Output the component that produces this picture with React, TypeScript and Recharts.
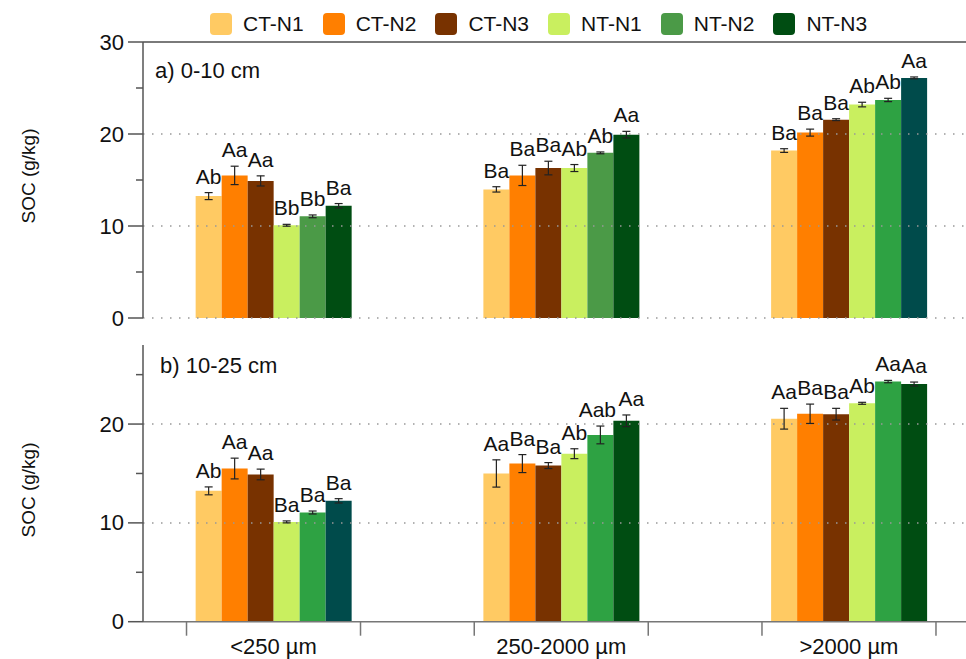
import React from "react";
import {
  BarChart,
  Bar,
  XAxis,
  YAxis,
  ReferenceLine,
  ErrorBar,
  LabelList,
  Cell,
  Legend,
} from "recharts";

const sizeClasses = ["<250 µm", "250-2000 µm", ">2000 µm"];
const treatments = ["CT-N1", "CT-N2", "CT-N3", "NT-N1", "NT-N2", "NT-N3"];

// SOC (g/kg): one row per aggregate size class, columns in treatment order
const soc0to10 = [
  [13.25, 15.5, 14.9, 10.08, 11.05, 12.2],
  [13.98, 15.5, 16.3, 16.3, 17.95, 19.93],
  [18.2, 20.15, 21.56, 23.2, 23.7, 26.1],
];
const se0to10 = [
  [0.38, 1.0, 0.55, 0.1, 0.15, 0.24],
  [0.29, 1.1, 0.74, 0.38, 0.1, 0.36],
  [0.2, 0.38, 0.1, 0.25, 0.18, 0.1],
];
const letters0to10 = [
  ["Ab", "Aa", "Aa", "Bb", "Bb", "Ba"],
  ["Ba", "Ba", "Ba", "Ab", "Ab", "Aa"],
  ["Ba", "Ba", "Ba", "Ab", "Ab", "Aa"],
];

const soc10to25 = [
  [13.24, 15.5, 14.9, 10.1, 11.05, 12.23],
  [15.0, 16.0, 15.8, 17.0, 18.9, 20.33],
  [20.54, 21.04, 21.0, 22.1, 24.3, 24.05],
];
const se10to25 = [
  [0.4, 1.05, 0.54, 0.1, 0.15, 0.22],
  [1.38, 0.91, 0.3, 0.5, 0.9, 0.59],
  [1.05, 0.98, 0.59, 0.1, 0.12, 0.2],
];
const letters10to25 = [
  ["Ab", "Aa", "Aa", "Ba", "Ba", "Ba"],
  ["Aa", "Ba", "Ba", "Ab", "Aab", "Aa"],
  ["Aa", "Ba", "Ba", "Ab", "Aa", "Aa"],
];

const topTicks = [0, 5, 10, 15, 20, 25, 30];
const bottomTicks = [0, 5, 10, 15, 20, 25];
const topGrid = [0, 10, 20];
const bottomGrid = [10, 20];

// colours
const CT1 = "#ffca63";
const CT2 = "#ff7f00";
const CT3 = "#783200";
const NT1 = "#c9ef5f";
const NT2a = "#4b9a47";
const NT2b = "#2ea243";
const NT3a = "#004d12";
const NT3b = "#004b4b";
const legendColors = [CT1, CT2, CT3, NT1, NT2a, NT3a];
const topColors = [
  [CT1, CT2, CT3, NT1, NT2a, NT3a],
  [CT1, CT2, CT3, NT1, NT2a, NT3a],
  [CT1, CT2, CT3, NT1, NT2b, NT3b],
];
const bottomColors = [
  [CT1, CT2, CT3, NT1, NT2b, NT3b],
  [CT1, CT2, CT3, NT1, NT2b, NT3a],
  [CT1, CT2, CT3, NT1, NT2b, NT3a],
];

const FONT = "'Liberation Sans', Arial, Helvetica, sans-serif";
const X_DOMAIN: [number, number] = [-0.4536, 2.4067];

function buildRows(soc: number[][], se: number[][], letters: string[][]) {
  return sizeClasses.map((size, i) => {
    const row: Record<string, number | string> = { pos: i, size };
    treatments.forEach((_, j) => {
      row[`v${j}`] = soc[i][j];
      row[`e${j}`] = se[i][j];
      row[`l${j}`] = letters[i][j];
    });
    return row;
  });
}

const YTick = (props: any) => {
  const { x, y, payload } = props;
  const major = payload.value % 10 === 0;
  return (
    <g>
      <line x1={x} x2={x - (major ? 15 : 7)} y1={y} y2={y} stroke="#555" strokeWidth={1.5} />
      {major && (
        <text x={x - 19} y={y} textAnchor="end" dominantBaseline="central" fontSize={22} fill="#111">
          {payload.value}
        </text>
      )}
    </g>
  );
};

const XTick = (props: any) => {
  const { x, y, payload } = props;
  return (
    <g>
      <line x1={x - 87} x2={x - 87} y1={y} y2={y + 14} stroke="#777" strokeWidth={1.5} />
      <line x1={x + 87} x2={x + 87} y1={y} y2={y + 14} stroke="#777" strokeWidth={1.5} />
      <text x={x} y={y + 32} textAnchor="middle" fontSize={22} fill="#111">
        {sizeClasses[payload.value]}
      </text>
    </g>
  );
};

const LegendRow = (props: any) => {
  const items = props.payload ?? [];
  return (
    <div style={{ display: "flex", alignItems: "center", height: 30, paddingLeft: 210, fontFamily: FONT }}>
      {items.map((it: any) => (
        <div key={it.value} style={{ display: "flex", alignItems: "center", marginRight: 19 }}>
          <div style={{ width: 22, height: 22, borderRadius: 4, background: it.color, marginRight: 11 }} />
          <span style={{ fontSize: 21, color: "#111" }}>{it.value}</span>
        </div>
      ))}
    </div>
  );
};

interface PanelProps {
  soc: number[][];
  se: number[][];
  letters: string[][];
  colors: string[][];
  yMax: number;
  ticks: number[];
  grid: number[];
  height: number;
  top: number;
  marginTop: number;
  title: string;
  titleX: number;
  titleY: number;
  ylabelY: number;
  legend?: boolean;
  bottomAxis?: boolean;
}

function Panel(p: PanelProps) {
  const rows = buildRows(p.soc, p.se, p.letters);

  const renderLetter = (j: number) => (lp: any) => {
    const vb = lp.viewBox ?? lp;
    const x = lp.x ?? vb.x;
    const y = lp.y ?? vb.y;
    const width = lp.width ?? vb.width;
    const height = lp.height ?? vb.height;
    const i = lp.index;
    const v = p.soc[i][j];
    const pxPerUnit = height / v;
    const topOfErr = y - p.se[i][j] * pxPerUnit;
    // nudge apart neighbours when a long letter group sits next to a short one
    const label = String(lp.value);
    const prev = j > 0 ? p.letters[i][j - 1] : "";
    let dx = 0;
    if (label.length > 2) dx -= 3;
    if (prev.length > 2) dx += 5;
    return (
      <text x={x + width / 2 + dx} y={topOfErr - 9} textAnchor="middle" fontSize={21} fill="#111">
        {label}
      </text>
    );
  };

  return (
    <div style={{ position: "absolute", left: 0, top: p.top }}>
      <BarChart
        width={966}
        height={p.height}
        data={rows}
        barGap={0}
        margin={{ top: p.marginTop, right: 0, bottom: p.bottomAxis ? 0 : 12, left: 0 }}
      >
        {p.legend && (
          <Legend
            verticalAlign="top"
            align="left"
            content={<LegendRow />}
            wrapperStyle={{ top: 9, left: 0, width: 966, height: 30, background: "transparent" }}
          />
        )}
        <XAxis
          dataKey="pos"
          type="number"
          domain={X_DOMAIN}
          ticks={[0, 1, 2]}
          interval={0}
          hide={!p.bottomAxis}
          height={37.3}
          tickLine={false}
          tickSize={0}
          tickMargin={0}
          axisLine={{ stroke: "#777", strokeWidth: 1.5 }}
          tick={<XTick />}
        />
        <YAxis
          type="number"
          domain={[0, p.yMax]}
          ticks={p.ticks}
          interval={0}
          width={143}
          tickLine={false}
          tickSize={0}
          tickMargin={0}
          axisLine={{ stroke: "#555", strokeWidth: 1.5 }}
          tick={<YTick />}
          label={() => {
            const cx = 28;
            const cy = p.ylabelY;
            return (
              <text
                x={cx}
                y={cy}
                transform={`rotate(-90 ${cx} ${cy})`}
                textAnchor="middle"
                dominantBaseline="central"
                fontSize={19}
                fill="#111"
              >
                SOC (g/kg)
              </text>
            );
          }}
        />
        {p.grid.map((g) => (
          <ReferenceLine key={g} y={g} stroke="#999" strokeWidth={1.5} strokeDasharray="1.5 7.5" />
        ))}
        {p.legend && (
          <ReferenceLine y={p.yMax} stroke="#7a7a7a" strokeWidth={2} ifOverflow="visible" />
        )}
        {treatments.map((t, j) => (
          <Bar
            key={t}
            dataKey={`v${j}`}
            name={t}
            fill={legendColors[j]}
            barSize={26}
            isAnimationActive={false}
          >
            {sizeClasses.map((s, i) => (
              <Cell key={s} fill={p.colors[i][j]} />
            ))}
            <ErrorBar dataKey={`e${j}`} width={4} stroke="#222" strokeWidth={1.2} direction="y" />
            <LabelList dataKey={`l${j}`} content={renderLetter(j)} />
          </Bar>
        ))}
        <text x={p.titleX} y={p.titleY} fontSize={22} fill="#111">
          {p.title}
        </text>
      </BarChart>
    </div>
  );
}

export default function App() {
  return (
    <div
      style={{
        position: "absolute",
        left: 0,
        top: 0,
        width: 966,
        height: 659,
        background: "#fff",
        fontFamily: FONT,
        overflow: "hidden",
      }}
    >
      <Panel
        soc={soc0to10}
        se={se0to10}
        letters={letters0to10}
        colors={topColors}
        yMax={30}
        ticks={topTicks}
        grid={topGrid}
        height={330}
        top={0}
        marginTop={12}
        title="a) 0-10 cm"
        titleX={155}
        titleY={78}
        ylabelY={176}
        legend
      />
      <Panel
        soc={soc10to25}
        se={se10to25}
        letters={letters10to25}
        colors={bottomColors}
        yMax={28}
        ticks={bottomTicks}
        grid={bottomGrid}
        height={329}
        top={330}
        marginTop={15}
        title="b) 10-25 cm"
        titleX={160}
        titleY={43}
        ylabelY={160}
        bottomAxis
      />
    </div>
  );
}
